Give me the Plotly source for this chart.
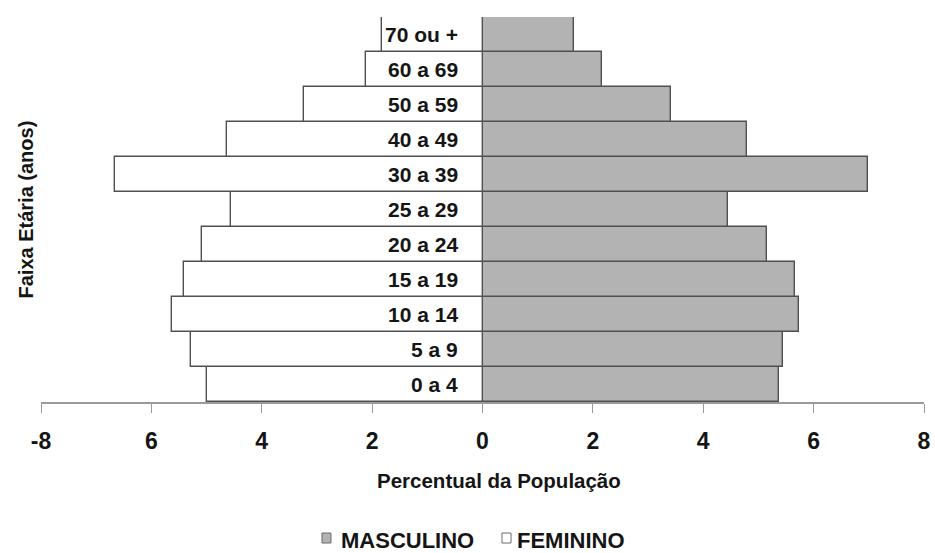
import plotly.graph_objects as go

# Age groups, bottom to top
faixas = ["0 a 4", "5 a 9", "10 a 14", "15 a 19", "20 a 24", "25 a 29",
          "30 a 39", "40 a 49", "50 a 59", "60 a 69", "70 ou +"]
masculino = [5.37, 5.45, 5.74, 5.66, 5.16, 4.45, 6.98, 4.79, 3.41, 2.17, 1.65]
feminino = [4.99, 5.28, 5.62, 5.41, 5.08, 4.55, 6.66, 4.63, 3.24, 2.12, 1.83]

tick_vals = [-8, -6, -4, -2, 0, 2, 4, 6, 8]
tick_text = ["-8", "6", "4", "2", "0", "2", "4", "6", "8"]

FONT = "Liberation Sans"
TXT = "#151515"
GRAY = "#b3b3b3"
EDGE = "#505050"

# Plot-area geometry (pixels) used to place the hand-built legend
W, H = 935, 553
ML, MR, MT, MB = 41, 11, 17, 151
PW, PH = W - ML - MR, H - MT - MB


def px_x(p):
    return (p - ML) / PW


def px_y(p):
    return (H - MB - p) / PH


fig = go.Figure()
fig.add_trace(go.Bar(
    y=faixas, x=masculino, orientation="h", name="MASCULINO",
    marker=dict(color=GRAY, line=dict(color=EDGE, width=1.4)),
    showlegend=False,
))
fig.add_trace(go.Bar(
    y=faixas, x=[-v for v in feminino], orientation="h", name="FEMININO",
    marker=dict(color="white", line=dict(color=EDGE, width=1.4)),
    showlegend=False,
))

# Age labels sitting just left of the zero line
for f in faixas:
    fig.add_annotation(
        x=0, y=f, xref="x", yref="y", text=f, showarrow=False,
        xanchor="right", xshift=-23,
        font=dict(family=FONT, size=21, color=TXT, weight="bold"),
    )

fig.add_annotation(
    x=px_x(499), y=px_y(480), xref="paper", yref="paper",
    text="Percentual da População", showarrow=False,
    xanchor="center", yanchor="middle",
    font=dict(family=FONT, size=20.5, color=TXT, weight="bold"),
)
fig.add_annotation(
    x=px_x(25), y=0.5, xref="paper", yref="paper", text="Faixa Etária (anos)",
    showarrow=False, textangle=-90, xanchor="center", yanchor="middle",
    font=dict(family=FONT, size=20, color=TXT, weight="bold"),
)

# Legend: small swatches followed by series names
legend_items = [("MASCULINO", GRAY, 322, 339), ("FEMININO", "white", 502, 515)]
for name, color, sx, tx in legend_items:
    fig.add_shape(
        type="rect", xref="paper", yref="paper",
        x0=px_x(sx), x1=px_x(sx + 9), y0=px_y(543), y1=px_y(533),
        fillcolor=color, line=dict(color="#6a6a6a", width=1),
    )
    fig.add_annotation(
        x=px_x(tx), y=px_y(540), xref="paper", yref="paper", text=name,
        showarrow=False, xanchor="left", yanchor="middle",
        font=dict(family=FONT, size=22, color=TXT, weight="bold"),
    )

fig.update_layout(
    width=W, height=H,
    margin=dict(l=ML, r=MR, t=MT, b=MB),
    paper_bgcolor="white", plot_bgcolor="white",
    barmode="relative", bargap=0,
    showlegend=False,
    xaxis=dict(
        range=[-8, 8], tickvals=tick_vals, ticktext=tick_text,
        showgrid=False, zeroline=False, automargin=False,
        showline=True, linecolor="#9a9a9a", linewidth=1.5,
        ticks="outside", ticklen=9, tickcolor="#9a9a9a",
        ticklabelstandoff=9,
        tickfont=dict(family=FONT, size=23, color=TXT, weight="bold"),
    ),
    yaxis=dict(
        range=[-0.5, 10.5], showticklabels=False, showgrid=False,
        zeroline=False, showline=False, ticks="", automargin=False,
    ),
)

fig.write_html("out.html")
